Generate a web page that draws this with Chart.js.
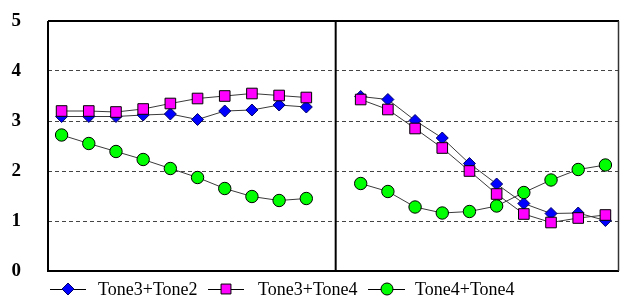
<!DOCTYPE html>
<html>
<head>
<meta charset="utf-8">
<script src="https://cdn.jsdelivr.net/npm/chart.js@4/dist/chart.umd.min.js"></script>
<style>
  html, body { margin: 0; padding: 0; background: #fff; }
  #wrap { width: 620px; height: 297px; position: relative; }
</style>
</head>
<body>
<div id="wrap"><canvas id="c" width="620" height="297"></canvas></div>
<script>
// Categories: two groups of ten points separated by an empty slot
const categories = ['A1','A2','A3','A4','A5','A6','A7','A8','A9','A10','',
                    'B1','B2','B3','B4','B5','B6','B7','B8','B9','B10'];
const seriesNames = ['Tone3+Tone2', 'Tone3+Tone4', 'Tone4+Tone4'];
const tone3tone2 = [3.09,3.09,3.09,3.12,3.14,3.03,3.20,3.22,3.32,3.28, null,
                    3.49,3.43,3.01,2.66,2.15,1.74,1.35,1.15,1.16,1.01];
const tone3tone4 = [3.20,3.20,3.18,3.24,3.35,3.45,3.50,3.55,3.51,3.47, null,
                    3.43,3.23,2.85,2.46,2.00,1.54,1.14,0.97,1.06,1.12];
const tone4tone4 = [2.72,2.55,2.39,2.23,2.05,1.87,1.65,1.49,1.41,1.45, null,
                    1.75,1.59,1.28,1.16,1.19,1.30,1.57,1.82,2.03,2.12];
const yTicks = [0,1,2,3,4,5];

const styles = [
  { pointStyle: 'rectRot', bg: '#0000FF', border: '#000066', radius: 6 },
  { pointStyle: 'rect',    bg: '#FF00FF', border: '#000000', radius: 7.5 },
  { pointStyle: 'circle',  bg: '#00FF00', border: '#000000', radius: 6.2 }
];
const seriesData = [tone3tone2, tone3tone4, tone4tone4];

const datasets = seriesData.map((d, i) => ({
  label: seriesNames[i],
  data: d,
  borderColor: '#3a3a3a',
  borderWidth: 1,
  pointStyle: styles[i].pointStyle,
  pointRadius: styles[i].radius,
  pointHoverRadius: styles[i].radius,
  pointBackgroundColor: styles[i].bg,
  pointBorderColor: styles[i].border,
  pointBorderWidth: 1,
  spanGaps: false,
  tension: 0,
  order: 3 - i
}));

function drawMarker(ctx, style, x, y, r) {
  ctx.beginPath();
  if (style.pointStyle === 'rectRot') {
    ctx.moveTo(x - r, y); ctx.lineTo(x, y - r); ctx.lineTo(x + r, y); ctx.lineTo(x, y + r);
    ctx.closePath();
  } else if (style.pointStyle === 'rect') {
    const s = r * Math.SQRT1_2;
    ctx.rect(x - s, y - s, 2 * s, 2 * s);
  } else {
    ctx.arc(x, y, r, 0, Math.PI * 2);
  }
  ctx.fillStyle = style.bg;
  ctx.fill();
  ctx.lineWidth = 1;
  ctx.strokeStyle = style.border;
  ctx.stroke();
}

const framePlugin = {
  id: 'frame',
  afterDatasetsDraw(chart) {
    const { ctx, chartArea: a, scales } = chart;
    ctx.save();
    // divider between the two groups
    const x9 = scales.x.getPixelForValue(9);
    const x11 = scales.x.getPixelForValue(11);
    const xd = x9 + 0.54 * (x11 - x9);
    ctx.strokeStyle = '#000';
    ctx.lineWidth = 2;
    ctx.beginPath(); ctx.moveTo(xd, a.top); ctx.lineTo(xd, a.bottom); ctx.stroke();
    // frame
    ctx.beginPath();
    ctx.moveTo(a.left, a.top); ctx.lineTo(a.right, a.top);
    ctx.moveTo(a.left, a.top); ctx.lineTo(a.left, a.bottom + 1);
    ctx.moveTo(a.left - 1, a.bottom); ctx.lineTo(a.right, a.bottom);
    ctx.stroke();
    ctx.strokeStyle = '#333';
    ctx.lineWidth = 1.5;
    ctx.beginPath(); ctx.moveTo(a.right - 0.5, a.top); ctx.lineTo(a.right - 0.5, a.bottom); ctx.stroke();
    ctx.restore();
  },
  afterDraw(chart) {
    const ctx = chart.ctx;
    const ly = 289;
    const items = [
      { x0: 50, x1: 86, mx: 68, tx: 98, mr: 6 },
      { x0: 208, x1: 244, mx: 226, tx: 258, mr: 7 },
      { x0: 368, x1: 405, mx: 387, tx: 415, mr: 6 }
    ];
    ctx.save();
    items.forEach((it, i) => {
      ctx.strokeStyle = '#000';
      ctx.lineWidth = 1;
      ctx.beginPath(); ctx.moveTo(it.x0, ly + 0.5); ctx.lineTo(it.x1, ly + 0.5); ctx.stroke();
      drawMarker(ctx, styles[i], it.mx, ly, it.mr);
      ctx.fillStyle = '#000';
      ctx.font = '18px "Liberation Serif", "Times New Roman", serif';
      ctx.textBaseline = 'middle';
      ctx.textAlign = 'left';
      ctx.fillText(seriesNames[i], it.tx, ly + 1);
    });
    ctx.restore();
  }
};

new Chart(document.getElementById('c'), {
  type: 'line',
  data: { labels: categories, datasets },
  options: {
    responsive: false,
    animation: false,
    layout: { autoPadding: false, padding: { top: 21, bottom: 26, right: 1, left: 0 } },
    plugins: { legend: { display: false }, tooltip: { enabled: false } },
    scales: {
      x: {
        type: 'category',
        offset: true,
        display: false
      },
      y: {
        min: 0,
        max: 5,
        afterBuildTicks(scale) { scale.ticks = yTicks.map(v => ({ value: v })); },
        afterFit(scale) {
          scale.width = 48;
          scale.paddingTop = 0; scale.paddingBottom = 0;
          scale.paddingLeft = 0; scale.paddingRight = 0;
        },
        border: { display: false, dash: [4, 3] },
        grid: {
          drawTicks: false,
          color: '#444',
          lineWidth: 1
        },
        ticks: {
          padding: 27,
          color: '#000',
          font: { family: '"Liberation Serif", "Times New Roman", serif', size: 19, weight: 'bold' }
        }
      }
    }
  },
  plugins: [framePlugin]
});
</script>
</body>
</html>
